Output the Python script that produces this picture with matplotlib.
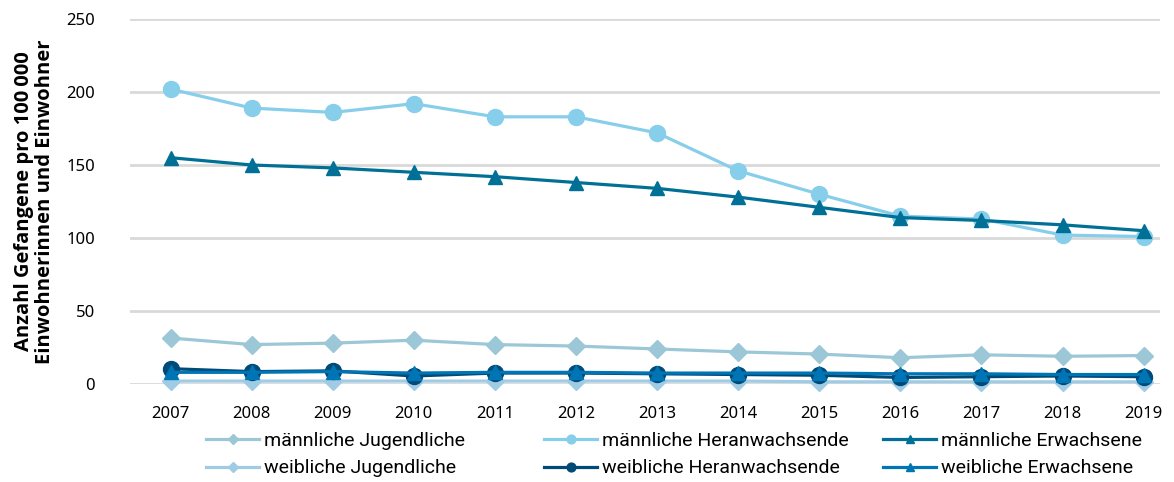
import matplotlib
matplotlib.use("Agg")
import matplotlib.pyplot as plt

plt.rcParams['font.family'] = ['Noto Sans', 'DejaVu Sans']

years = list(range(2007, 2020))
m_jugend = [31.5, 27, 28, 30, 27, 26, 24, 22, 20.5, 18, 20, 19, 19.5]
m_heran = [202, 189, 186, 192, 183, 183, 172, 146, 130, 115, 113, 102, 101]
m_erw = [155, 150, 148, 145, 142, 138, 134, 128, 121, 114, 112, 109, 105]
w_jugend = [2, 2, 2, 2, 2, 2, 2, 2, 1.5, 1.5, 1.5, 1.5, 1.5]
w_heran = [10.5, 8.5, 9, 5.5, 7.5, 7.5, 7, 6.5, 6, 4.5, 5, 5.5, 5]
w_erw = [8, 8, 8.5, 7.5, 8, 8, 7.5, 7.5, 7.5, 7, 7, 6.5, 6.5]
yticks = [0, 50, 100, 150, 200, 250]

series = [
    ("männliche Jugendliche", m_jugend, "#9BC7D6", "D", 9),
    ("weibliche Jugendliche", w_jugend, "#A0CBE4", "D", 9),
    ("männliche Heranwachsende", m_heran, "#87CEEB", "o", 11.5),
    ("weibliche Heranwachsende", w_heran, "#004A78", "o", 11.5),
    ("männliche Erwachsene", m_erw, "#007096", "^", 10.5),
    ("weibliche Erwachsene", w_erw, "#0075B5", "^", 10.5),
]
draw_order = [0, 1, 2, 4, 3, 5]

fig = plt.figure(figsize=(11.74, 4.82), dpi=100)
ax = fig.add_axes([0.1107, 0.2033, 0.988 - 0.1107, 0.9606 - 0.2033])

handles = [None] * len(series)
for i in draw_order:
    label, vals, col, mk, ms = series[i]
    h, = ax.plot(years, vals, color=col, marker=mk, markersize=ms, lw=2.3,
                 label=label, clip_on=False, zorder=3 + i)
    handles[i] = h

ax.set_xlim(2006.5, 2019.2)
ax.set_ylim(0, 250)
ax.set_yticks(yticks)
ax.set_xticks(years)
ax.set_xticklabels([str(y) for y in years])
ax.grid(axis='y', color='#D9D9D9', lw=2)
ax.set_axisbelow(True)
for s in ax.spines.values():
    s.set_visible(False)
ax.tick_params(length=0, labelsize=12, colors='#000000')
ax.tick_params(axis='x', pad=16)
ax.tick_params(axis='y', pad=25)

ax.set_ylabel("Anzahl Gefangene pro 100\u2009000\nEinwohnerinnen und Einwohner",
              fontsize=14.5, fontweight='bold', labelpad=8, linespacing=1.1,
              family=['Open Sans', 'DejaVu Sans'])

col_x = [206, 544, 883]
for c in range(3):
    hs = [handles[2 * c], handles[2 * c + 1]]
    ls = [series[2 * c][0], series[2 * c + 1][0]]
    fig.legend(handles=hs, labels=ls, loc='upper left',
               bbox_to_anchor=(col_x[c] / 1174, (482 - 432) / 482),
               frameon=False, borderpad=0, borderaxespad=0,
               handlelength=2.75, handletextpad=0.22, labelspacing=0.48,
               markerscale=0.55,
               prop={'family': ['Roboto', 'DejaVu Sans'], 'size': 14})

fig.savefig("out.png", dpi=100)
